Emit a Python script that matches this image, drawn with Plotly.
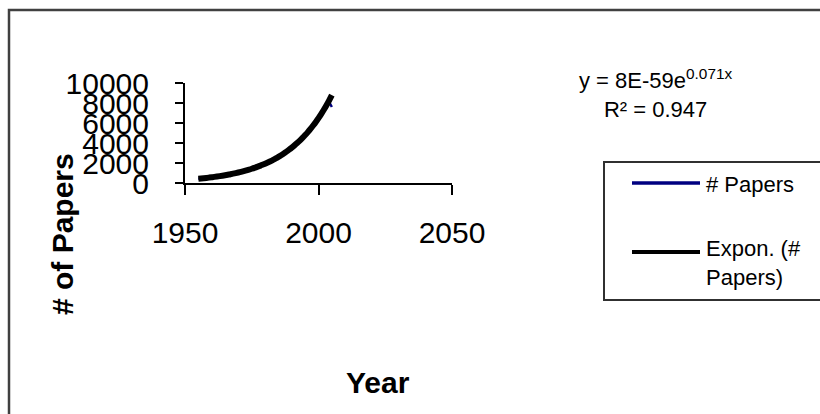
import numpy as np
import plotly.graph_objects as go

years = list(range(1955, 2006))
papers = [420, 450, 470, 500, 540, 570, 610, 650, 690, 720,
          780, 830, 880, 900, 990, 1060, 1120, 1180, 1270, 1340,
          1440, 1520, 1620, 1740, 1830, 1960, 2080, 2200, 2340, 2500,
          2660, 2820, 3000, 3200, 3400, 3550, 3650, 3900, 4250, 4600,
          4850, 5100, 5500, 5800, 6300, 6500, 6900, 7400, 7900, 8100,
          7600]
x_ticks = [1950, 2000, 2050]
y_ticks = [0, 2000, 4000, 6000, 8000, 10000]
y_tick_labels = ["0", "2000", "4000", "6000", "8000", "10000"]
equation = "y = 8E-59e<sup>0.071x</sup><br>R² = 0.947"

# Exponential trendline (least squares on ln y, as a spreadsheet does)
yr = np.array(years, dtype=float)
b, a = np.polyfit(yr, np.log(np.array(papers, dtype=float)), 1)
trend = np.exp(a + b * yr)

# plot-area geometry (pixels)
L, R, T, B = 185, 452, 83, 183
W, H = 820, 414
def px(x):
    return (x - L) / (R - L)
def py(y):
    return (B - y) / (B - T)

fig = go.Figure()
fig.add_trace(go.Scatter(x=years, y=papers, mode="lines", name="# Papers",
                         line=dict(color="#000080", width=2.5), showlegend=False))
fig.add_trace(go.Scatter(x=years, y=trend, mode="lines", name="Expon. (# Papers)",
                         line=dict(color="black", width=6, shape="spline"), showlegend=False))

tickfont = dict(family="Liberation Sans, Arial", size=30, color="black")
fig.update_xaxes(range=[1950, 2050], tickvals=x_ticks, ticks="outside", ticklen=10,
                 tickwidth=2, tickcolor="black", showline=True, linecolor="black", linewidth=2,
                 showgrid=False, zeroline=False, tickfont=tickfont, ticklabelstandoff=12)
fig.update_yaxes(range=[0, 10000], tickvals=y_ticks, ticktext=y_tick_labels, ticks="outside", ticklen=8,
                 tickwidth=2, tickcolor="black", showline=True, linecolor="black", linewidth=2,
                 showgrid=False, zeroline=False, tickfont=tickfont, ticklabelstandoff=20)

shapes = [
    # outer chart border
    dict(type="rect", xref="paper", yref="paper", x0=px(9), x1=px(825), y0=py(10), y1=py(420),
         line=dict(color="#404040", width=2.5), fillcolor="rgba(0,0,0,0)", layer="below"),
    # legend box
    dict(type="rect", xref="paper", yref="paper", x0=px(604), x1=px(825), y0=py(162), y1=py(300),
         line=dict(color="#303030", width=2), fillcolor="white", layer="below"),
    # legend samples
    dict(type="line", xref="paper", yref="paper", x0=px(632), x1=px(700), y0=py(183), y1=py(183),
         line=dict(color="#000080", width=3.5)),
    dict(type="line", xref="paper", yref="paper", x0=px(632), x1=px(700), y0=py(252), y1=py(252),
         line=dict(color="black", width=4)),
]

txt = dict(family="Liberation Sans, Arial", color="black")
annotations = [
    dict(text=equation, x=px(656), y=py(93), xref="paper", yref="paper", showarrow=False,
         xanchor="center", yanchor="middle", align="center", font=dict(size=22, **txt)),
    dict(text="# Papers", x=px(704), y=py(184), xref="paper", yref="paper", showarrow=False,
         xanchor="left", yanchor="middle", align="left", font=dict(size=22, **txt)),
    dict(text="Expon. (#<br>Papers)", x=px(704), y=py(263), xref="paper", yref="paper", showarrow=False,
         xanchor="left", yanchor="middle", align="left", font=dict(size=22, **txt)),
    dict(text="<b>Year</b>", x=px(378), y=py(382), xref="paper", yref="paper", showarrow=False,
         xanchor="center", yanchor="middle", font=dict(size=30, **txt)),
    dict(text="<b># of Papers</b>", x=px(62), y=py(234), xref="paper", yref="paper", showarrow=False,
         xanchor="center", yanchor="middle", textangle=-90, font=dict(size=30, **txt)),
]

fig.update_layout(width=W, height=H, margin=dict(l=L, r=W - R, t=T, b=H - B, pad=0),
                  paper_bgcolor="white", plot_bgcolor="white",
                  shapes=shapes, annotations=annotations, showlegend=False)

fig.write_html("out.html", config={"displayModeBar": False},
               post_script="document.body.style.margin='0';document.body.style.overflow='hidden';")
